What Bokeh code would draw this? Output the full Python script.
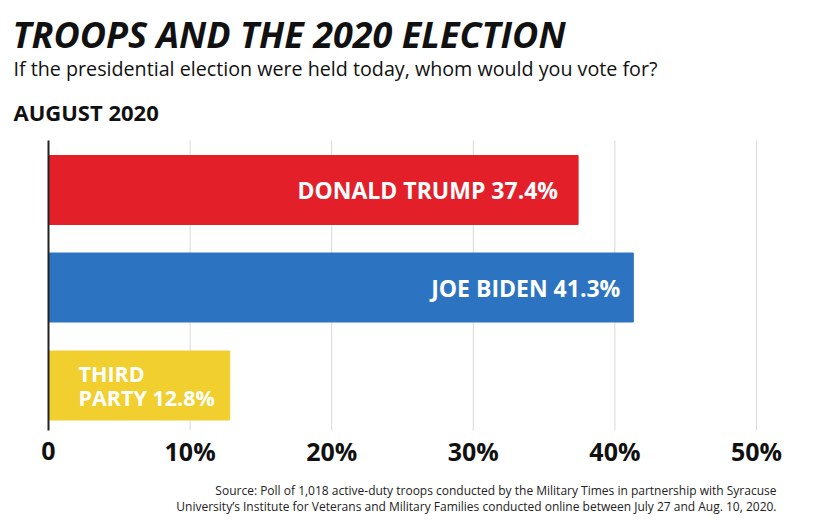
from bokeh.plotting import figure
from bokeh.embed import file_html
from bokeh.resources import INLINE
from bokeh.core.properties import value

names = ["DONALD TRUMP 37.4%", "JOE BIDEN 41.3%", "THIRD\nPARTY 12.8%"]
values = [37.4, 41.3, 12.8]
colors = ["#e3202a", "#2c74c1", "#f1cf2e"]
ypos = [240.5, 143, 45]
ticks = [0, 10, 20, 30, 40, 50]
tick_labels = ["0", "10%", "20%", "30%", "40%", "50%"]

W, H = 812, 522
sx = 14.16  # px per percent
p = figure(width=W, height=H, output_backend="svg", toolbar_location=None,
           x_range=(-48 / sx, (W - 48) / sx), y_range=(430 - H, 430),
           min_border=0)
p.outline_line_color = None
p.axis.visible = False
p.grid.visible = False

def px(x):  # page x -> data
    return (x - 48) / sx

def py(y):
    return 430 - y

p.segment(x0=ticks[1:], x1=ticks[1:], y0=0, y1=290, line_color="#d9d9d9", line_width=1)
p.hbar(y=ypos, right=values, left=0, height=69, color=colors)
p.segment(x0=[0], x1=[0], y0=[0], y1=[290], line_color="#222222", line_width=2)

p.text(x=ticks, y=py(450), text=tick_labels, text_align="center", text_baseline="middle",
       text_color="#111111", text_font=value("Open Sans"), text_font_style="bold",
       text_font_size="25px")

p.text(x=values[:2], y=ypos[:2], text=names[:2], x_offset=[-20, -13], text_align="right",
       text_baseline="middle", text_color="white", text_font=value("Open Sans"),
       text_font_style="bold", text_font_size="23px")
p.text(x=[0], y=[ypos[2]], text=[names[2]], x_offset=[30], text_align="left",
       text_baseline="middle", text_color="white", text_font=value("Open Sans"),
       text_font_style="bold", text_font_size="21.5px", text_line_height=0.85)

def lab(txt, x, y, size, style, align="left", color="#111111"):
    p.text(x=[px(x)], y=[py(y)], text=[txt], text_font=value("Open Sans"),
           text_font_size=size, text_font_style=style, text_align=align,
           text_baseline="middle", text_color=color)

lab("TROOPS AND THE 2020 ELECTION", 12, 34, "36px", "bold italic")
lab("If the presidential election were held today, whom would you vote for?", 13, 68, "19.7px", "normal")
lab("AUGUST 2020", 13, 111, "22px", "bold")
lab("Source: Poll of 1,018 active-duty troops conducted by the Military Times in partnership with Syracuse", 776, 490, "12px", "normal", "right", "#222222")
lab("University\u2019s Institute for Veterans and Military Families conducted online between July 27 and Aug. 10, 2020.", 776, 506, "12px", "normal", "right", "#222222")

open("out.html", "w").write(file_html(p, INLINE))
